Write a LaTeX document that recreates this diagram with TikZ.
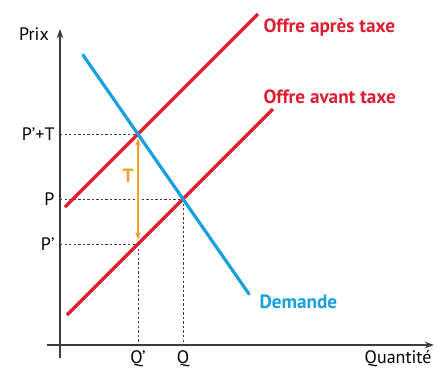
\documentclass[tikz,border=0pt]{standalone}
\usepackage{fontspec}
\setmainfont{PT Sans}
\usetikzlibrary{arrows.meta}

\definecolor{offrered}{RGB}{222,30,48}
\definecolor{demblue}{RGB}{22,160,222}
\definecolor{taxorange}{RGB}{242,160,40}
\definecolor{axisgray}{RGB}{60,60,60}

\tikzset{every picture/.style={line width=0.75pt}}
\tikzset{
  axisline/.style={draw=axisgray, line width=1.1pt, -{Stealth[length=7pt,width=5pt]}},
  guide/.style={draw=axisgray, line width=0.6pt, dash pattern=on 1.8pt off 1.6pt},
  curve/.style={line width=2.4pt},
  lbl/.style={font=\fontsize{13.5}{15}\selectfont, text=black, inner sep=0pt},
  curvelbl/.style={font=\fontsize{14.4}{16}\selectfont\bfseries, inner sep=0pt}
}

\begin{document}
\begin{tikzpicture}[x=0.75pt,y=0.75pt,yscale=-1,xscale=1]
\useasboundingbox (0,0) rectangle (442,369);

% points
\coordinate (O1) at (60,358);
\coordinate (YT) at (60,29);
\coordinate (X0) at (47,345);
\coordinate (XT) at (434,345);
\coordinate (Ya) at (60,134);
\coordinate (Yb) at (60,199);
\coordinate (Yc) at (60,244);
\coordinate (Xa) at (138,345);
\coordinate (Xb) at (183,345);
\coordinate (Etax) at (138,134);
\coordinate (Eq) at (183,199);
\coordinate (Elow) at (138,244);
\coordinate (Dtop) at (83,55);
\coordinate (Dbot) at (249,294);
\coordinate (Sa1) at (65,207);
\coordinate (Sa2) at (258,14);
\coordinate (Sb1) at (67,315);
\coordinate (Sb2) at (273,109);

%Straight Lines: guides
\draw [guide] (Ya) -- (Etax) ;
\draw [guide] (Yb) -- (Eq) ;
\draw [guide] (Yc) -- (Elow) ;
\draw [guide] (Elow) -- (Xa) ;
\draw [guide] (Eq) -- (Xb) ;

%Straight Lines: axes
\draw [axisline] (O1) -- (YT) ;
\draw [axisline] (X0) -- (XT) ;

%Straight Lines: curves
\draw [curve, offrered] (Sa1) -- (Sa2) ;
\draw [curve, offrered] (Sb1) -- (Sb2) ;
\draw [curve, demblue, line cap=round] (Dtop) -- (Dbot) ;

%Straight Lines: tax
\draw [taxorange, line width=1.2pt, {Stealth[length=6pt,width=4pt]}-{Stealth[length=6pt,width=4pt]}, shorten <=3pt, shorten >=3pt] (Elow) -- (Etax) ;

% Text Node
\node [lbl] (prix) at (34,34) {Prix};
% Text Node
\node [lbl, anchor=east] (ppt) at (55,134) {P’+T};
% Text Node
\node [lbl, anchor=east] (pe) at (55,199) {P};
% Text Node
\node [lbl, anchor=east] (pp) at (55,244) {P’};
% Text Node
\node [lbl, anchor=north] (qp) at (138,350) {Q’};
% Text Node
\node [lbl, anchor=north] (qe) at (183,350) {Q};
% Text Node
\node [lbl, anchor=north east] (qte) at (432,350) {Quantité};
% Text Node
\node [curvelbl, text=taxorange] (tt) at (128,176) {T};
% Text Node
\node [curvelbl, text=demblue, anchor=west] (dem) at (259,302) {Demande};
% Text Node
\node [curvelbl, text=offrered, anchor=west] (oap) at (263,28) {Offre après taxe};
% Text Node
\node [curvelbl, text=offrered, anchor=west] (oav) at (263,97) {Offre avant taxe};

\end{tikzpicture}
\end{document}
